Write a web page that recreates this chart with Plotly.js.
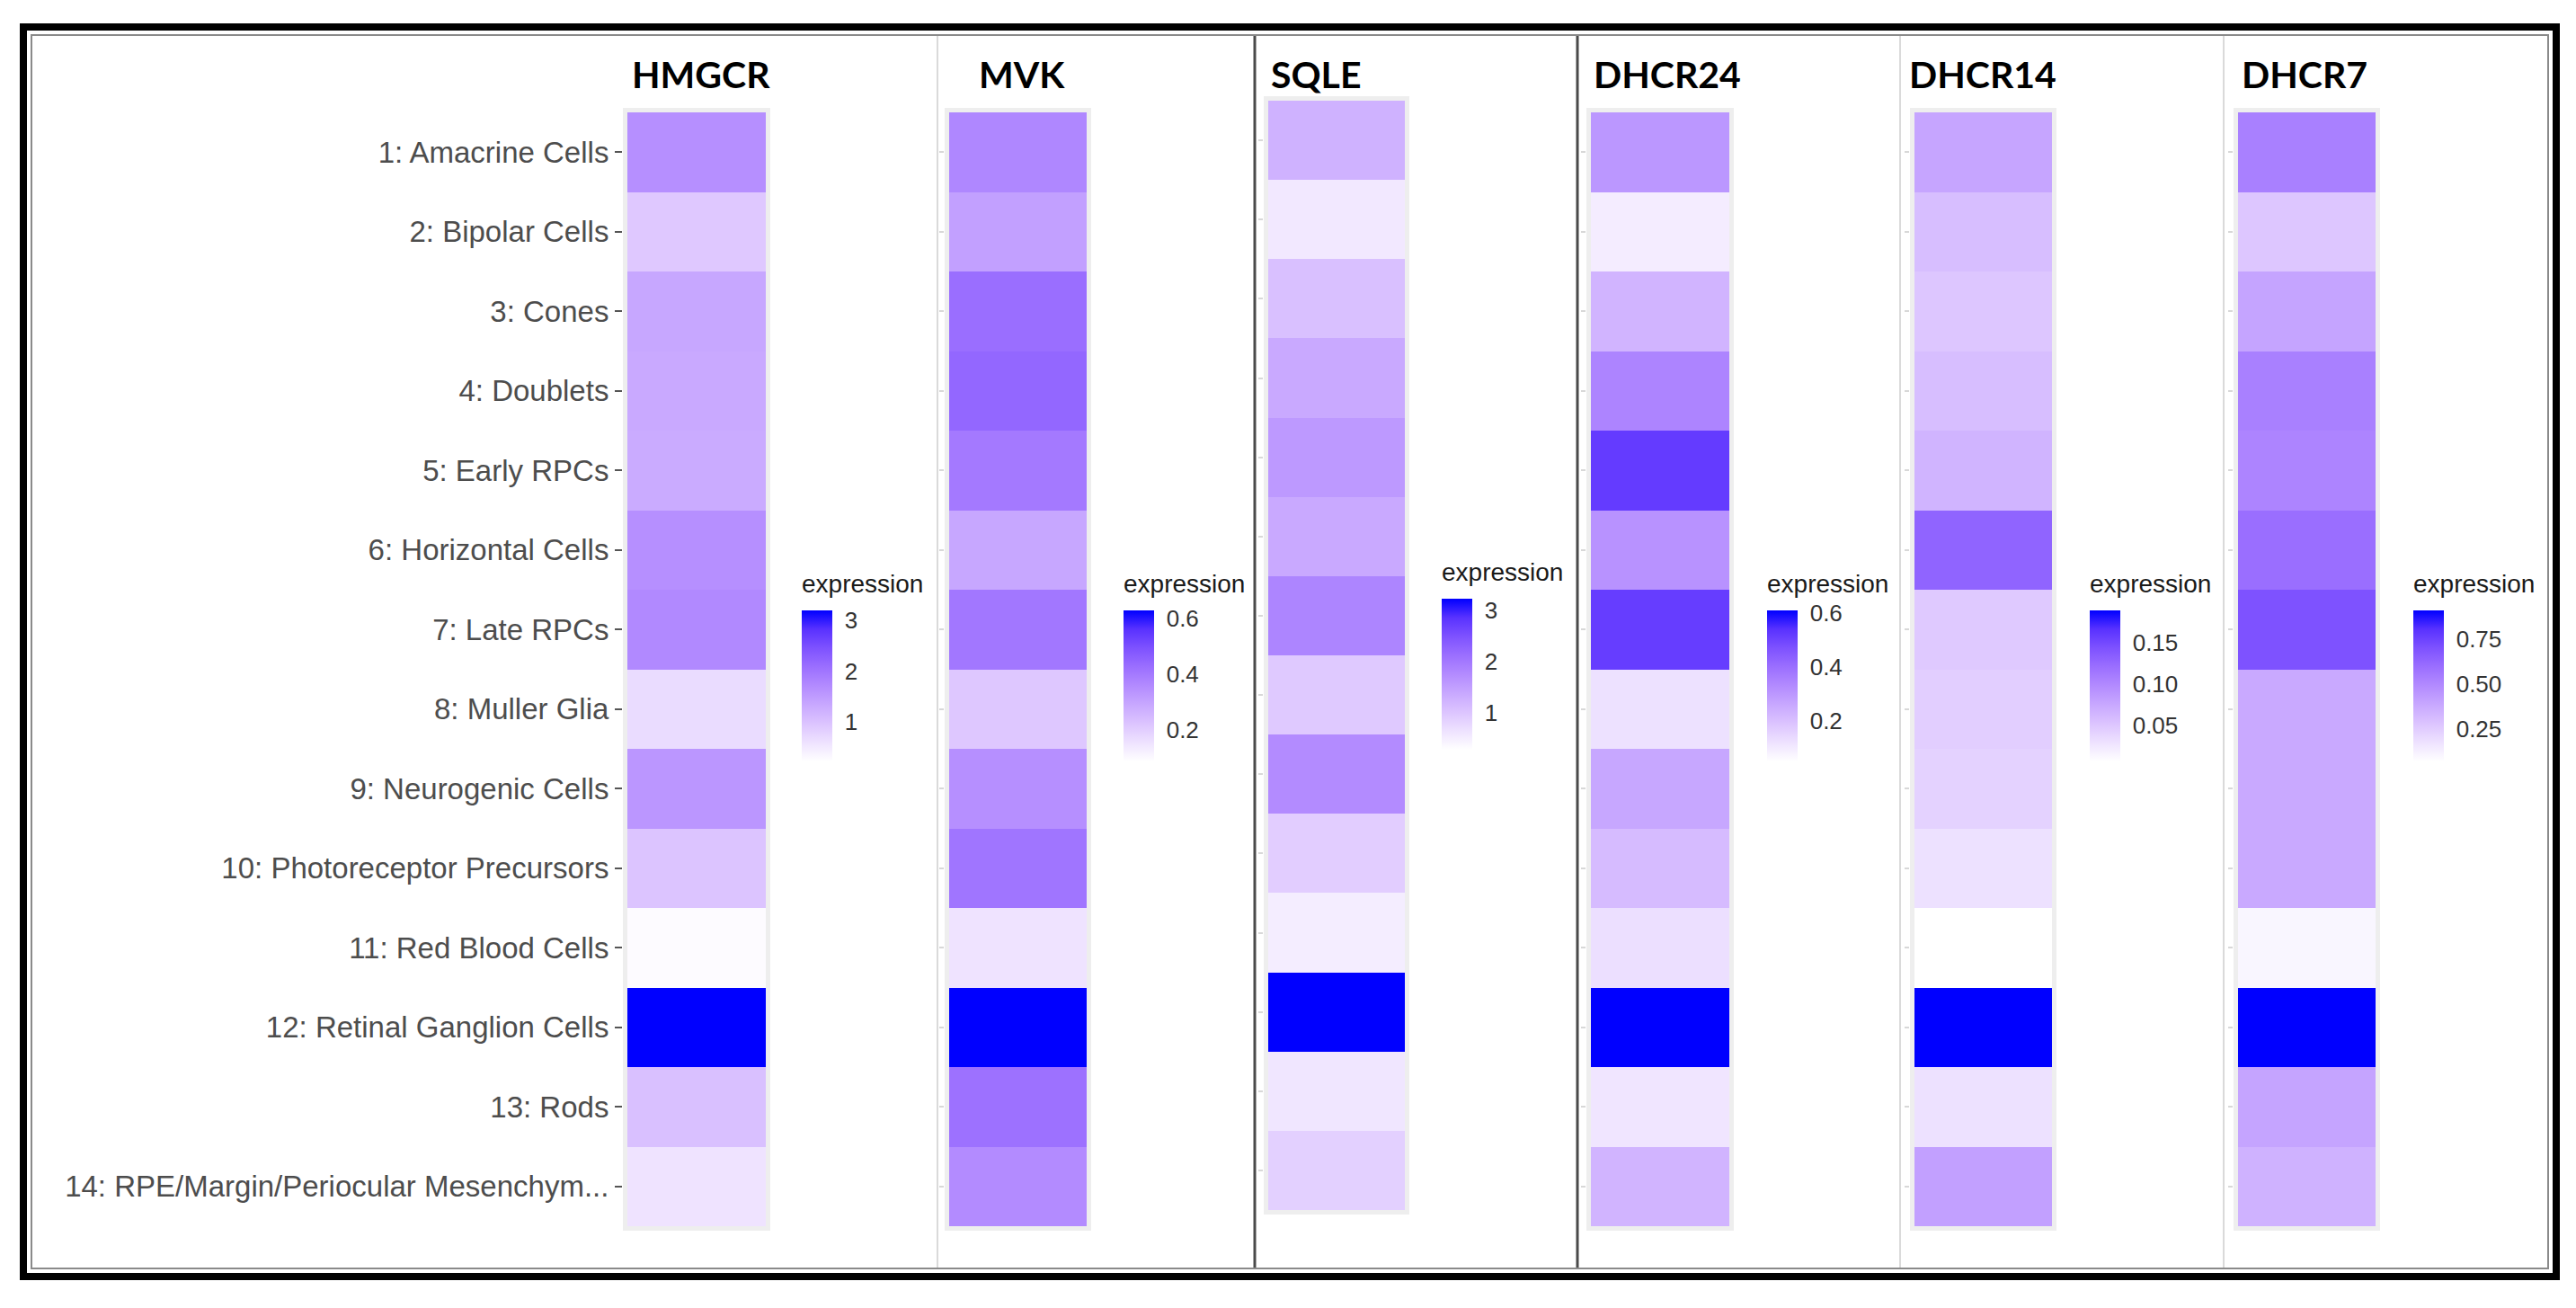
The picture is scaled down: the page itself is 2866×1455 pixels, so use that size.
<!DOCTYPE html>
<html><head><meta charset="utf-8">
<script src="https://cdn.plot.ly/plotly-3.0.1.min.js"></script>
<style>html,body{margin:0;padding:0;background:#fff;overflow:hidden;} #chart{width:2866px;height:1455px;}</style>
</head><body><div id="chart"></div>
<script>
// ---------------- data ----------------
const cellTypes = [
  "1: Amacrine Cells", "2: Bipolar Cells", "3: Cones", "4: Doublets", "5: Early RPCs",
  "6: Horizontal Cells", "7: Late RPCs", "8: Muller Glia", "9: Neurogenic Cells",
  "10: Photoreceptor Precursors", "11: Red Blood Cells", "12: Retinal Ganglion Cells",
  "13: Rods", "14: RPE/Margin/Periocular Mesenchym..."
];
const genes = ["HMGCR", "MVK", "SQLE", "DHCR24", "DHCR14", "DHCR7"];

const HMGCR  = [1.66, 0.91, 1.35, 1.32, 1.30, 1.66, 1.74, 0.67, 1.57, 0.97, 0.27, 3.20, 1.02, 0.58];
const MVK    = [0.367, 0.308, 0.427, 0.443, 0.400, 0.291, 0.405, 0.215, 0.346, 0.410, 0.150, 0.628, 0.420, 0.357];
const SQLE   = [1.26, 0.58, 1.08, 1.37, 1.58, 1.37, 1.84, 0.96, 1.76, 0.91, 0.52, 3.22, 0.61, 0.88];
const DHCR24 = [0.302, 0.095, 0.229, 0.347, 0.520, 0.313, 0.515, 0.123, 0.263, 0.212, 0.128, 0.610, 0.112, 0.229];
const DHCR14 = [0.077, 0.057, 0.050, 0.057, 0.065, 0.129, 0.048, 0.044, 0.041, 0.030, 0.006, 0.189, 0.030, 0.081];
const DHCR7  = [0.532, 0.272, 0.398, 0.532, 0.515, 0.599, 0.700, 0.381, 0.381, 0.381, 0.104, 0.910, 0.398, 0.347];

const scaleMin = [0.22, 0.085, 0.29, 0.05, 0.006, 0.07];
const scaleMax = [3.20, 0.628, 3.22, 0.61, 0.189, 0.91];
const tickValues = [[1, 2, 3], [0.2, 0.4, 0.6], [1, 2, 3], [0.2, 0.4, 0.6], [0.05, 0.10, 0.15], [0.25, 0.50, 0.75]];
const tickLabels = [["1", "2", "3"], ["0.2", "0.4", "0.6"], ["1", "2", "3"], ["0.2", "0.4", "0.6"], ["0.05", "0.10", "0.15"], ["0.25", "0.50", "0.75"]];
const legendTitle = "expression";

const expressionByGene = [HMGCR, MVK, SQLE, DHCR24, DHCR14, DHCR7];

// ---------------- styling / geometry ----------------
const W = 2866, H = 1455;
// white -> blue interpolated in CIELAB (ggplot style gradient)
const colorscale = [
  [0, "rgb(255,255,255)"], [0.125, "rgb(238,226,255)"], [0.25, "rgb(220,196,255)"],
  [0.375, "rgb(200,168,255)"], [0.5, "rgb(179,139,255)"], [0.625, "rgb(155,111,255)"],
  [0.75, "rgb(126,82,255)"], [0.875, "rgb(89,50,255)"], [1, "rgb(0,0,255)"]
];
const geom = [
  {tx0: 698,  tx1: 852,  ty0: 125, ty1: 1364, cbx: 892,  cbTop: 679, cbBot: 847, titleX: 701},
  {tx0: 1056, tx1: 1209, ty0: 125, ty1: 1364, cbx: 1250, cbTop: 679, cbBot: 847, titleX: 1087},
  {tx0: 1411, tx1: 1563, ty0: 112, ty1: 1346, cbx: 1604, cbTop: 666, cbBot: 834, titleX: 1412},
  {tx0: 1770, tx1: 1924, ty0: 125, ty1: 1364, cbx: 1966, cbTop: 679, cbBot: 847, titleX: 1771},
  {tx0: 2130, tx1: 2283, ty0: 125, ty1: 1364, cbx: 2325, cbTop: 679, cbBot: 847, titleX: 2122},
  {tx0: 2490, tx1: 2643, ty0: 125, ty1: 1364, cbx: 2685, cbTop: 679, cbBot: 847, titleX: 2492}
];
const titleMidY = 82;
const pad = 5;
const labelFont = {family: "Liberation Sans, Arial, sans-serif", size: 33, color: "#4D4D4D"};
const legendFont = {family: "Liberation Sans, Arial, sans-serif", size: 26, color: "#333333"};
const legendTitleFont = {family: "Liberation Sans, Arial, sans-serif", size: 28, color: "#1A1A1A"};
const geneFont = {family: "Lato, Roboto, sans-serif", size: 41, color: "#000000"};

const traces = [];
const layout = {
  width: W, height: H,
  margin: {l: 0, r: 0, t: 0, b: 0},
  paper_bgcolor: "#FFFFFF",
  plot_bgcolor: "#EEEEEE",
  showlegend: false,
  annotations: [],
  shapes: []
};

genes.forEach((gene, i) => {
  const g = geom[i];
  const n = i === 0 ? "" : String(i + 1);
  const tw = g.tx1 - g.tx0;
  const rh = (g.ty1 - g.ty0) / cellTypes.length;
  traces.push({
    type: "heatmap",
    x: [0],
    y: cellTypes,
    z: expressionByGene[i].map(v => [v]),
    xaxis: "x" + n, yaxis: "y" + n,
    colorscale: colorscale,
    zmin: scaleMin[i], zmax: scaleMax[i],
    hovertemplate: gene + "<br>%{y}: %{z}<extra></extra>",
    colorbar: {
      x: g.cbx / W, xanchor: "left", xpad: 0,
      y: 1 - g.cbTop / H, yanchor: "top", ypad: 0,
      len: g.cbBot - g.cbTop, lenmode: "pixels",
      thickness: 34, thicknessmode: "pixels",
      outlinewidth: 0,
      tickmode: "array", tickvals: tickValues[i], ticktext: tickLabels[i],
      ticks: "outside", ticklen: 9, tickcolor: "rgba(0,0,0,0)",
      tickfont: legendFont
    }
  });
  layout["xaxis" + n] = {
    domain: [(g.tx0 - pad) / W, (g.tx1 + pad) / W],
    range: [-0.5 - pad / tw, 0.5 + pad / tw],
    anchor: "y" + n,
    showticklabels: false, showgrid: false, zeroline: false, ticks: "", showline: false,
    fixedrange: true
  };
  layout["yaxis" + n] = {
    domain: [1 - (g.ty1 + pad) / H, 1 - (g.ty0 - pad) / H],
    type: "category",
    categoryorder: "array", categoryarray: cellTypes,
    range: [cellTypes.length - 0.5 + pad / rh, -0.5 - pad / rh],
    anchor: "x" + n,
    showgrid: false, zeroline: false, showline: false,
    ticks: "outside", ticklen: i === 0 ? 8 : 5, tickwidth: 2,
    tickcolor: i === 0 ? "#555555" : "#D8D8D8",
    showticklabels: i === 0,
    tickfont: labelFont,
    fixedrange: true
  };
  // gene title
  layout.annotations.push({
    xref: "paper", yref: "paper",
    x: g.titleX / W, xanchor: "left",
    y: 1 - titleMidY / H, yanchor: "middle",
    text: "<b>" + gene + "</b>", showarrow: false,
    font: geneFont
  });
  // legend title
  layout.annotations.push({
    xref: "paper", yref: "paper",
    x: (g.cbx - 2) / W, xanchor: "left",
    y: 1 - (g.cbTop - 30) / H, yanchor: "middle",
    text: legendTitle, showarrow: false,
    font: legendTitleFont
  });
});

// frame and panel separators
const px = v => v / W, py = v => 1 - v / H;
layout.shapes.push({type: "rect", xref: "paper", yref: "paper", x0: px(26), x1: px(2844), y0: py(30), y1: py(1420),
  line: {color: "#000000", width: 8}, fillcolor: "rgba(0,0,0,0)", layer: "above"});
layout.shapes.push({type: "rect", xref: "paper", yref: "paper", x0: px(35), x1: px(2835), y0: py(39), y1: py(1411),
  line: {color: "#8A8A8A", width: 2}, fillcolor: "rgba(0,0,0,0)", layer: "above"});
[[1043, "#DADADA", 2], [1396, "#4A4A4A", 3], [1755, "#4A4A4A", 3], [2114, "#DADADA", 2], [2474, "#DADADA", 2]].forEach(s => {
  layout.shapes.push({type: "line", xref: "paper", yref: "paper", x0: px(s[0]), x1: px(s[0]), y0: py(40), y1: py(1410),
    line: {color: s[1], width: s[2]}, layer: "above"});
});

Plotly.newPlot("chart", traces, layout, {displayModeBar: false, staticPlot: true});
</script>
</body></html>
